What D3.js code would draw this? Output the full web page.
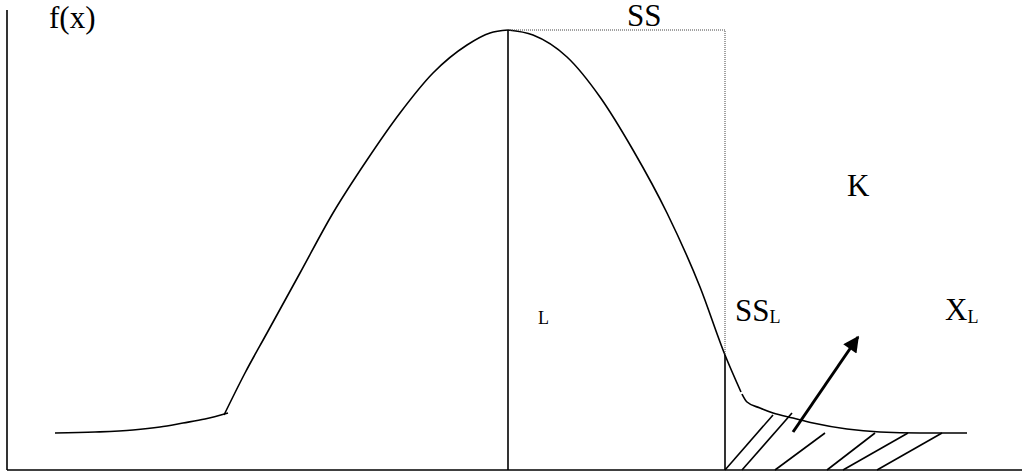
<!DOCTYPE html>
<html lang="en">
<head>
    <meta charset="UTF-8">
    <script src="https://d3js.org/d3.v7.min.js"></script>
    <style>
        body { margin: 0; padding: 0; background: #fff; }
        svg { display: block; }
        .lbl { font-family: "Liberation Serif", "Times New Roman", serif; fill: #000; }
        .curve { fill: none; stroke: #000; stroke-width: 1.6px; }
    </style>
</head>
<body>
    <svg id="chart"></svg>
    <script>
        // curve pieces, [x, f(x)] (x from the axis, f up from the baseline)
        const leftTail = [[48,37],[88,38],[126,40],[153,43],[176,47],[198,51],[221,57]];
        const rise = [[217,55],[238,97],[260,137],[293,197],[326,257],[360,310],[393,357],[426,397],[460,425],[483,437],[501,440]];
        const fall = [[501,440],[526,435],[560,413],[593,373],[626,320],[660,257],[693,183],[718,115],[734,78]];
        const rightTail = [[735,76],[740,68],[753,62],[766,57],[786,52],[806,47],[840,41],[873,38],[913,37],[960,37]];

        const meanX = 501, peakY = 440;
        const ssX = 718, ssY = 115;
        // hatch strokes under the right tail: [x0, y0, x1, y1]
        const hatches = [[718,0,766,55],[735,0,785,57],[768,0,818,37],[820,0,868,37],[836,0,901,37],[870,0,935,37]];
        const arrow = [[786,38],[851,133]];

        function drawChart() {
            const width = 1022, height = 476;
            const svg = d3.select("#chart").attr("width", width).attr("height", height);
            svg.selectAll("*").remove();

            const x = d3.scaleLinear().domain([0, 1015]).range([7, 1022]);
            const y = d3.scaleLinear().domain([0, 440]).range([470, 30]);

            const line = d3.line().x(d => x(d[0])).y(d => y(d[1])).curve(d3.curveMonotoneX);

            svg.append("defs").append("marker")
                .attr("id", "head")
                .attr("viewBox", "0 0 10 10")
                .attr("refX", 9).attr("refY", 5)
                .attr("markerUnits", "userSpaceOnUse")
                .attr("markerWidth", 18).attr("markerHeight", 16)
                .attr("orient", "auto")
                .append("path").attr("d", "M0,0L10,5L0,10Z").attr("fill", "#000");

            // axes
            svg.append("line")
                .attr("x1", x(0)).attr("x2", x(0))
                .attr("y1", y(460)).attr("y2", y(0))
                .attr("stroke", "#000").attr("stroke-width", 1.6);
            svg.append("line")
                .attr("x1", x(0)).attr("x2", x(1015))
                .attr("y1", y(0)).attr("y2", y(0))
                .attr("stroke", "#000").attr("stroke-width", 1.6);

            [leftTail, rise, fall, rightTail].forEach(seg => {
                svg.append("path").attr("class", "curve").attr("d", line(seg));
            });

            // dotted SS box
            svg.append("path")
                .attr("d", `M${x(meanX)},${y(peakY)}H${x(ssX)}V${y(ssY)}`)
                .attr("fill", "none").attr("stroke", "#444")
                .attr("stroke-width", 1).attr("stroke-dasharray", "1,1");

            // verticals
            svg.append("line")
                .attr("x1", x(meanX)).attr("x2", x(meanX))
                .attr("y1", y(peakY)).attr("y2", y(0))
                .attr("stroke", "#000").attr("stroke-width", 1.6);
            svg.append("line")
                .attr("x1", x(ssX)).attr("x2", x(ssX))
                .attr("y1", y(ssY)).attr("y2", y(0))
                .attr("stroke", "#000").attr("stroke-width", 1.6);

            svg.selectAll(".hatch")
                .data(hatches)
                .enter()
                .append("line")
                .attr("class", "hatch")
                .attr("x1", d => x(d[0])).attr("y1", d => y(d[1]))
                .attr("x2", d => x(d[2])).attr("y2", d => y(d[3]))
                .attr("stroke", "#000").attr("stroke-width", 1.6);

            svg.append("line")
                .attr("x1", x(arrow[0][0])).attr("y1", y(arrow[0][1]))
                .attr("x2", x(arrow[1][0])).attr("y2", y(arrow[1][1]))
                .attr("stroke", "#000").attr("stroke-width", 3)
                .attr("marker-end", "url(#head)");

            // labels
            const fs = 31, sub = 18;
            const txt = (px, py, s, size) => svg.append("text").attr("class", "lbl")
                .attr("x", px).attr("y", py).style("font-size", size + "px").text(s);

            txt(x(42), y(442), "f(x)", fs);
            txt(x(620), y(444), "SS", fs);
            txt(x(840), y(274), "K", fs);
            txt(x(531), y(146), "L", sub);

            const ssl = svg.append("text").attr("class", "lbl").attr("x", x(728)).attr("y", y(149)).style("font-size", fs + "px");
            ssl.append("tspan").text("SS");
            ssl.append("tspan").attr("dy", 2).style("font-size", sub + "px").text("L");

            const xl = svg.append("text").attr("class", "lbl").attr("x", x(938)).attr("y", y(150)).style("font-size", fs + "px");
            xl.append("tspan").text("X");
            xl.append("tspan").attr("dy", 3).style("font-size", sub + "px").text("L");
        }

        drawChart();
    </script>
</body>
</html>
